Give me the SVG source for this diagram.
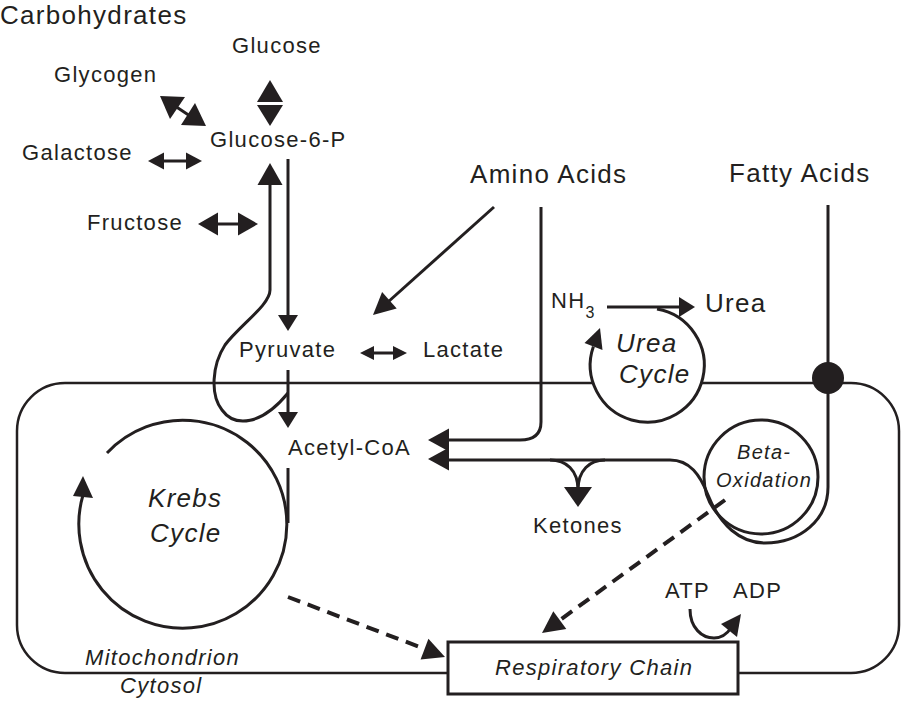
<svg xmlns="http://www.w3.org/2000/svg" width="903" height="702" viewBox="0 0 903 702">
<style>
text{font-family:"Liberation Sans",Arial,sans-serif;fill:#231f20;letter-spacing:1.3px}
.s{font-size:22px}
.l{font-size:26px}
.i{font-style:italic}
.ln{fill:none;stroke:#231f20;stroke-width:3}
.th{fill:none;stroke:#231f20;stroke-width:2.5}
.hd{fill:#231f20;stroke:none}
.ds{fill:none;stroke:#231f20;stroke-width:4;stroke-dasharray:13 8}
</style>
<rect width="903" height="702" fill="#fff"/>
<g id="mitochondrion">
<rect x="17" y="383" width="882" height="290" rx="48" class="th"/>
<text class="s i" x="85" y="665">Mitochondrion</text>
<text class="s i" x="120" y="693">Cytosol</text>
</g>
<g id="connectors">
<polygon class="hd" points="270,80 283,102 257,102"/>
<polygon class="hd" points="270,126 283,105 257,105"/>
<line class="ln" x1="172" y1="104" x2="193" y2="118" stroke-width="5"/>
<polygon class="hd" points="160,96 170,119 185,97"/>
<polygon class="hd" points="206,126 181,125 195,103"/>
<line class="ln" x1="158" y1="161" x2="192" y2="161"/>
<polygon class="hd" points="148,161 164,152.5 164,169.5"/>
<polygon class="hd" points="202,161 186,152.5 186,169.5"/>
<line class="ln" x1="212" y1="224" x2="244" y2="224" stroke-width="3.5"/>
<polygon class="hd" points="198,224 218,212.5 218,235.5"/>
<polygon class="hd" points="258,224 238,212.5 238,235.5"/>
<line class="ln" x1="288" y1="159" x2="288" y2="318"/>
<polygon class="hd" points="288,331 278,315 298,315"/>
<path class="ln" d="M270,183 V290 C270,305 240,325 225,345 C212,365 210,395 222,410 C235,428 262,425 288,393"/>
<polygon class="hd" points="270,163 257.5,185 282.5,185"/>
<line class="ln" x1="368" y1="353" x2="399" y2="353"/>
<polygon class="hd" points="360,353 374,346 374,360"/>
<polygon class="hd" points="407,353 393,346 393,360"/>
<line class="ln" x1="288" y1="370" x2="288" y2="416"/>
<polygon class="hd" points="288,428 278,412 298,412"/>
<line class="ln" x1="288" y1="468" x2="288" y2="523" stroke-width="2.5"/>
<line class="ln" x1="494" y1="207" x2="388" y2="302"/>
<polygon class="hd" points="373,315 382.1,292.1 396.7,308.5"/>
<path class="ln" d="M541,207 V422 C541,434 534,440 520,440 H445" stroke-width="3.5"/>
<polygon class="hd" points="428,440 449,428.5 449,451.5"/>
<line class="ln" x1="607" y1="307" x2="684" y2="307" stroke-width="3.5"/>
<polygon class="hd" points="695,307 679,297 679,317"/>
<path class="ln" d="M445,460 H670 C690,460 700,475 708,495 C720,525 740,543 765,543 C800,543 828,520 828,487 V205" stroke-width="3.5"/>
<polygon class="hd" points="428,459 449,447.5 449,470.5"/>
<path class="ln" d="M550,460 C566,460 578,470 578,490 M605,460 C590,460 578,470 578,490"/>
<polygon class="hd" points="578,507 564,487 592,487"/>
<line class="ds" x1="288" y1="597" x2="425" y2="649"/>
<polygon class="hd" points="445,657 420.6,659.4 428.4,638.8"/>
<line class="ds" x1="725" y1="500" x2="560" y2="620"/>
<polygon class="hd" points="542,633 553.3,611.2 566.3,629"/>
<path class="ln" d="M690,609 C690,628 702,638 714,638 C722,638 727,634 731,628"/>
<polygon class="hd" points="741,614 737,637 721,624"/>
</g>
<g id="carbohydrates"><text class="l" x="0" y="24">Carbohydrates</text></g>
<g id="glucose"><text class="s" x="232" y="53">Glucose</text></g>
<g id="glycogen"><text class="s" x="54" y="82">Glycogen</text></g>
<g id="glucose6p"><text class="s" x="210" y="147">Glucose-6-P</text></g>
<g id="galactose"><text class="s" x="22" y="160">Galactose</text></g>
<g id="fructose"><text class="s" x="87" y="230">Fructose</text></g>
<g id="amino-acids"><text class="l" x="470" y="183">Amino Acids</text></g>
<g id="fatty-acids"><text class="l" x="729" y="182">Fatty Acids</text></g>
<g id="nh3"><text class="s" x="551" y="308">NH<tspan font-size="16" dy="10">3</tspan></text></g>
<g id="urea"><text class="l" x="705" y="312">Urea</text></g>
<g id="pyruvate"><text class="s" x="239" y="357">Pyruvate</text></g>
<g id="lactate"><text class="s" x="423" y="357">Lactate</text></g>
<g id="acetyl-coa"><text class="s" x="288" y="455">Acetyl-CoA</text></g>
<g id="ketones"><text class="s" x="533" y="533">Ketones</text></g>
<g id="urea-cycle">
<circle cx="647" cy="366" r="57" fill="#fff" stroke="none"/>
<path class="ln" d="M657,309 A57,57 0 1 1 593.4,346.5"/>
<polygon class="hd" points="600,328 602.5,350 584.5,343"/>
<text class="l i" x="616" y="352">Urea</text>
<text class="l i" x="619" y="383">Cycle</text>
</g>
<g id="junction"><circle cx="828" cy="378" r="16" fill="#231f20"/></g>
<g id="beta-oxidation">
<circle cx="761" cy="477" r="57" class="ln" stroke-width="3.5"/>
<text class="i" x="737" y="459" style="font-size:20px">Beta-</text>
<text class="i" x="716" y="487" style="font-size:20px">Oxidation</text>
</g>
<g id="krebs-cycle">
<path class="ln" d="M107,453 A104,104 0 1 1 83,495" stroke-width="2.5"/>
<polygon class="hd" points="83,476 73,496 93,498"/>
<text class="l i" x="148" y="507">Krebs</text>
<text class="l i" x="150" y="542">Cycle</text>
</g>
<g id="respiratory-chain">
<rect x="448" y="642" width="290" height="52" fill="#fff" stroke="#231f20" stroke-width="3"/>
<text class="s i" x="495" y="675">Respiratory Chain</text>
</g>
<g id="atp"><text class="s" x="665" y="598">ATP</text></g>
<g id="adp"><text class="s" x="733" y="598">ADP</text></g>
</svg>
